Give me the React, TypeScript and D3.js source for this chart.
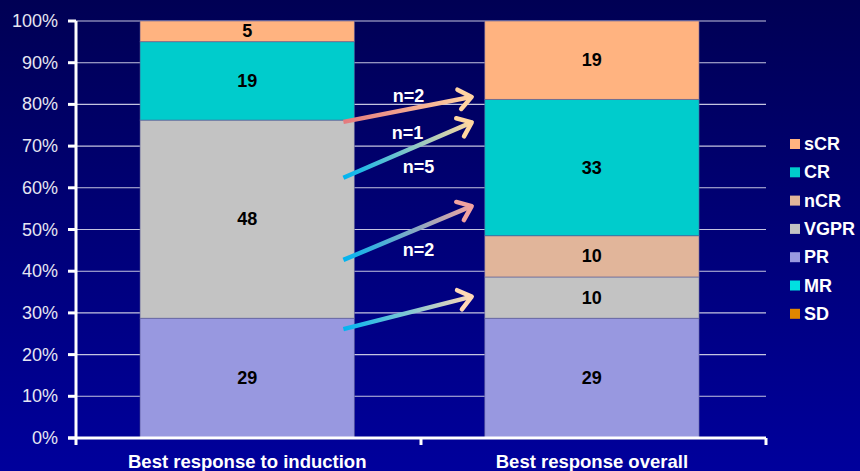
import React from "react";
import * as d3 from "d3";

const W = 860;
const H = 471;

// Categories and response groups (stack order bottom → top)
const categories = ["Best response to induction", "Best response overall"];
const responseKeys = ["SD", "MR", "PR", "VGPR", "nCR", "CR", "sCR"];

// Counts per response group, one entry per category
const sdValues = [0, 0];
const mrValues = [0, 0];
const prValues = [29, 29];
const vgprValues = [48, 10];
const ncrValues = [0, 10];
const crValues = [19, 33];
const scrValues = [5, 19];

const responseColors: Record<string, string> = {
  sCR: "#FFB380",
  CR: "#00CCCC",
  nCR: "#E1B59A",
  VGPR: "#C3C3C3",
  PR: "#9898E0",
  MR: "#00E1E1",
  SD: "#E08600",
};

const yTicks = [0, 0.1, 0.2, 0.3, 0.4, 0.5, 0.6, 0.7, 0.8, 0.9, 1.0];

// Transition arrows between the two bars: share levels at start/end
const transitionFrom = [0.758, 0.624, 0.427, 0.261];
const transitionTo = [0.818, 0.757, 0.556, 0.339];
const transitionStartColors = ["#E47A7E", "#00B4F0", "#00B4F0", "#00B4F0"];
const transitionEndColors = ["#FFD3A2", "#FFD7A0", "#F2A2A0", "#FFD8B6"];

// Patient counts annotating the transitions
const transitionLabels = ["n=2", "n=1", "n=5", "n=2"];
const transitionLabelLevels = [0.82, 0.731, 0.65, 0.451];
const transitionLabelShift = [1, 0, 11, 11];

const seriesByKey: Record<string, number[]> = {
  SD: sdValues,
  MR: mrValues,
  PR: prValues,
  VGPR: vgprValues,
  nCR: ncrValues,
  CR: crValues,
  sCR: scrValues,
};

const rows = categories.map((c, i) => {
  const r: Record<string, number | string> = { category: c };
  responseKeys.forEach((k) => (r[k] = seriesByKey[k][i]));
  return r;
});

const margin = { left: 76, right: 94, top: 21, bottom: 33 };
const FONT = "'Liberation Sans', Arial, Helvetica, sans-serif";

export default function App() {
  const x = d3
    .scaleBand<string>()
    .domain(categories)
    .range([margin.left, W - margin.right])
    .paddingInner(0.378)
    .paddingOuter(0.19)
    .align(0.489);
  const y = d3.scaleLinear().domain([0, 1]).range([H - margin.bottom, margin.top]);

  const stacked = d3
    .stack<Record<string, number | string>>()
    .keys(responseKeys)
    .value((d, k) => d[k] as number)
    .offset(d3.stackOffsetExpand)(rows);

  const x0 = x.range()[0];
  const x1 = x.range()[1];
  const yBase = y(0);
  const bw = x.bandwidth();
  const leftEnd = (x(categories[0]) as number) + bw - 11;
  const rightStart = (x(categories[1]) as number) - 13;
  const gapMid = (leftEnd + rightStart) / 2;

  const fmtPct = d3.format(".0%");

  const legendX = 790;
  const legendY0 = 144;
  const legendStep = 28.3;
  const legendKeys = [...responseKeys].reverse();

  return (
    <div style={{ position: "fixed", left: 0, top: 0 }}>
      <svg width={W} height={H} style={{ display: "block" }} fontFamily={FONT}>
        <defs>
          <linearGradient id="bg" x1="0" y1="0" x2="0" y2="1">
            <stop offset="0%" stopColor="#000054" />
            <stop offset="100%" stopColor="#00009C" />
          </linearGradient>
          {transitionFrom.map((f, i) => (
            <linearGradient
              key={i}
              id={`arrow${i}`}
              gradientUnits="userSpaceOnUse"
              x1={leftEnd}
              y1={y(f)}
              x2={rightStart}
              y2={y(transitionTo[i])}
            >
              <stop offset="0%" stopColor={transitionStartColors[i]} />
              <stop offset="100%" stopColor={transitionEndColors[i]} />
            </linearGradient>
          ))}
        </defs>
        <rect x={0} y={0} width={W} height={H} fill="url(#bg)" />

        {/* gridlines */}
        {yTicks
          .filter((t) => t > 0)
          .map((t) => (
            <line
              key={t}
              x1={x0}
              x2={x1}
              y1={y(t)}
              y2={y(t)}
              stroke="#C4C4E0"
              strokeWidth={1.1}
            />
          ))}

        {/* stacked bars */}
        {stacked.map((s) => (
          <g key={s.key} fill={responseColors[s.key]}>
            {s.map((d, i) =>
              d[1] - d[0] > 0 ? (
                <rect
                  key={i}
                  x={x(categories[i])}
                  width={bw}
                  y={y(d[1])}
                  height={y(d[0]) - y(d[1])}
                  stroke="rgba(90,90,150,0.55)"
                  strokeWidth={1}
                />
              ) : null
            )}
          </g>
        ))}

        {/* segment values */}
        {stacked.map((s) =>
          s.map((d, i) => {
            const v = (rows[i][s.key] as number) || 0;
            if (v <= 0) return null;
            return (
              <text
                key={`${s.key}-${i}`}
                x={(x(categories[i]) as number) + bw / 2}
                y={y((d[0] + d[1]) / 2)}
                textAnchor="middle"
                dominantBaseline="central"
                fontSize={18}
                fontWeight="bold"
                fill="#000"
              >
                {v}
              </text>
            );
          })
        )}

        {/* y axis */}
        <line x1={x0} x2={x0} y1={y(1)} y2={yBase} stroke="#fff" strokeWidth={3} />
        {yTicks.map((t) => (
          <g key={t}>
            <line x1={x0 - 8} x2={x0} y1={y(t)} y2={y(t)} stroke="#fff" strokeWidth={3} />
            <text
              x={x0 - 18}
              y={y(t)}
              textAnchor="end"
              dominantBaseline="central"
              fontSize={18}
              fill="#E6E6F2"
            >
              {fmtPct(t)}
            </text>
          </g>
        ))}

        {/* x axis */}
        <line x1={x0 - 8} x2={x1} y1={yBase} y2={yBase} stroke="#fff" strokeWidth={3} />
        {[x0, (x0 + x1) / 2, x1].map((px, i) => (
          <line key={i} x1={px} x2={px} y1={yBase} y2={yBase + 7} stroke="#fff" strokeWidth={3} />
        ))}
        {categories.map((c) => (
          <text
            key={c}
            x={(x(c) as number) + bw / 2}
            y={yBase + 23}
            textAnchor="middle"
            dominantBaseline="central"
            fontSize={18.5}
            fontWeight="bold"
            fill="#fff"
          >
            {c}
          </text>
        ))}

        {/* transition arrows */}
        {transitionFrom.map((f, i) => {
          const sx = leftEnd;
          const sy = y(f);
          const ex = rightStart;
          const ey = y(transitionTo[i]);
          const ang = Math.atan2(ey - sy, ex - sx);
          const arm = 16;
          const spread = (38 * Math.PI) / 180;
          const ax1 = ex - arm * Math.cos(ang - spread);
          const ay1 = ey - arm * Math.sin(ang - spread);
          const ax2 = ex - arm * Math.cos(ang + spread);
          const ay2 = ey - arm * Math.sin(ang + spread);
          const lineEnd = [ex - 2 * Math.cos(ang), ey - 2 * Math.sin(ang)];
          return (
            <g key={i} fill="none" strokeLinecap="round" strokeLinejoin="round">
              <line
                x1={sx}
                y1={sy}
                x2={lineEnd[0]}
                y2={lineEnd[1]}
                stroke={`url(#arrow${i})`}
                strokeWidth={4.5}
                strokeLinecap="butt"
              />
              <path
                d={`M${ax1},${ay1}L${ex},${ey}L${ax2},${ay2}`}
                stroke={transitionEndColors[i]}
                strokeWidth={4.5}
              />
            </g>
          );
        })}

        {transitionLabels.map((t, i) => (
          <text
            key={i}
            x={gapMid + transitionLabelShift[i]}
            y={y(transitionLabelLevels[i])}
            textAnchor="middle"
            dominantBaseline="central"
            fontSize={18}
            fontWeight="bold"
            fill="#fff"
          >
            {t}
          </text>
        ))}

        {/* legend */}
        {legendKeys.map((k, i) => (
          <g key={k} transform={`translate(${legendX},${legendY0 + i * legendStep})`}>
            <rect x={0} y={-5} width={10} height={10} fill={responseColors[k]} />
            <text
              x={14}
              y={0}
              dominantBaseline="central"
              fontSize={18}
              fontWeight="bold"
              fill="#fff"
            >
              {k}
            </text>
          </g>
        ))}
      </svg>
    </div>
  );
}
